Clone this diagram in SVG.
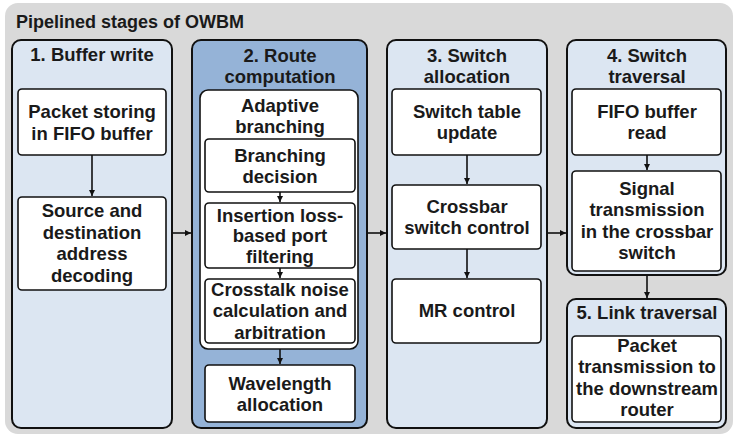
<svg xmlns="http://www.w3.org/2000/svg" width="743" height="447" viewBox="0 0 743 447">
<defs>
<style>
text{font-family:"Liberation Sans",Arial,sans-serif;font-weight:bold;font-size:18.5px;fill:#1a1a1a;text-anchor:middle}
.stage{fill:#dce6f2;stroke:#111;stroke-width:2}
.stage2{fill:#95b3d7;stroke:#111;stroke-width:2}
.box{fill:#fff;stroke:#111;stroke-width:1.6}
.conn{stroke:#111;stroke-width:1.6;fill:none}
</style>
<marker id="ah" markerUnits="userSpaceOnUse" markerWidth="7" markerHeight="7" refX="6" refY="3.5" orient="auto">
<path d="M0,0.5 L6,3.5 L0,6.5 z" fill="#111"/>
</marker>
</defs>
<rect x="5" y="3" width="728" height="431" rx="13" fill="#d9d9d9"/>
<text x="16" y="28" style="text-anchor:start;font-size:18px">Pipelined stages of OWBM</text>

<g id="stage1">
<rect class="stage" x="12" y="40" width="160" height="388" rx="9"/>
<text x="92" y="61">1. Buffer write</text>
</g>
<g id="packet-storing">
<rect class="box" x="18" y="89" width="148" height="66" rx="4"/>
<text x="92" y="118">Packet storing</text>
<text x="92" y="140">in FIFO buffer</text>
</g>
<g id="address-decoding">
<rect class="box" x="18" y="197" width="148" height="93" rx="4"/>
<text x="92" y="217">Source and</text>
<text x="92" y="239">destination</text>
<text x="92" y="260">address</text>
<text x="92" y="282">decoding</text>
</g>

<g id="stage2">
<rect class="stage2" x="192" y="40" width="175" height="388" rx="9"/>
<text x="280" y="62">2. Route</text>
<text x="280" y="83">computation</text>
</g>
<g id="adaptive-branching">
<rect class="box" x="200" y="90" width="158" height="259" rx="8"/>
<text x="280" y="112">Adaptive</text>
<text x="280" y="133">branching</text>
</g>
<g id="branching-decision">
<rect class="box" x="205" y="139" width="150" height="53" rx="4"/>
<text x="280" y="162">Branching</text>
<text x="280" y="183">decision</text>
</g>
<g id="port-filtering">
<rect class="box" x="205" y="203" width="150" height="65" rx="4"/>
<text x="280" y="222">Insertion loss-</text>
<text x="280" y="242">based port</text>
<text x="280" y="263">filtering</text>
</g>
<g id="crosstalk">
<rect class="box" x="205" y="279" width="150" height="64" rx="4"/>
<text x="280" y="296">Crosstalk noise</text>
<text x="280" y="317">calculation and</text>
<text x="280" y="339">arbitration</text>
</g>
<g id="wavelength">
<rect class="box" x="205" y="365" width="150" height="57" rx="4"/>
<text x="280" y="390">Wavelength</text>
<text x="280" y="411">allocation</text>
</g>

<g id="stage3">
<rect class="stage" x="387" y="40" width="160" height="388" rx="9"/>
<text x="467" y="62">3. Switch</text>
<text x="467" y="83">allocation</text>
</g>
<g id="switch-table">
<rect class="box" x="392" y="89" width="149" height="66" rx="4"/>
<text x="467" y="118">Switch table</text>
<text x="467" y="139">update</text>
</g>
<g id="crossbar-control">
<rect class="box" x="392" y="185" width="149" height="64" rx="4"/>
<text x="467" y="213">Crossbar</text>
<text x="467" y="234">switch control</text>
</g>
<g id="mr-control">
<rect class="box" x="392" y="279" width="149" height="64" rx="4"/>
<text x="467" y="317">MR control</text>
</g>

<g id="stage4">
<rect class="stage" x="567" y="40" width="159" height="235" rx="9"/>
<text x="647" y="62">4. Switch</text>
<text x="647" y="83">traversal</text>
</g>
<g id="fifo-read">
<rect class="box" x="572" y="89" width="149" height="66" rx="4"/>
<text x="647" y="118">FIFO buffer</text>
<text x="647" y="139">read</text>
</g>
<g id="signal-transmission">
<rect class="box" x="572" y="171" width="149" height="100" rx="4"/>
<text x="647" y="195">Signal</text>
<text x="647" y="216">transmission</text>
<text x="647" y="238">in the crossbar</text>
<text x="647" y="259">switch</text>
</g>

<g id="stage5">
<rect class="stage" x="567" y="299" width="159" height="129" rx="9"/>
<text x="647" y="319">5. Link traversal</text>
</g>
<g id="packet-transmission">
<rect class="box" x="572" y="336" width="149" height="86" rx="4"/>
<text x="647" y="352">Packet</text>
<text x="647" y="373">transmission to</text>
<text x="647" y="395">the downstream</text>
<text x="647" y="416">router</text>
</g>

<g id="connectors">
<line class="conn" x1="92" y1="155" x2="92" y2="196" marker-end="url(#ah)"/>
<line class="conn" x1="280" y1="192" x2="280" y2="202" marker-end="url(#ah)"/>
<line class="conn" x1="280" y1="268" x2="280" y2="278" marker-end="url(#ah)"/>
<line class="conn" x1="280" y1="349" x2="280" y2="364" marker-end="url(#ah)"/>
<line class="conn" x1="467" y1="155" x2="467" y2="184" marker-end="url(#ah)"/>
<line class="conn" x1="467" y1="249" x2="467" y2="278" marker-end="url(#ah)"/>
<line class="conn" x1="647" y1="155" x2="647" y2="170" marker-end="url(#ah)"/>
<line class="conn" x1="647" y1="275" x2="647" y2="298" marker-end="url(#ah)"/>
<line class="conn" x1="172" y1="233" x2="191" y2="233" marker-end="url(#ah)"/>
<line class="conn" x1="367" y1="233" x2="386" y2="233" marker-end="url(#ah)"/>
<line class="conn" x1="547" y1="233" x2="566" y2="233" marker-end="url(#ah)"/>
</g>
</svg>
